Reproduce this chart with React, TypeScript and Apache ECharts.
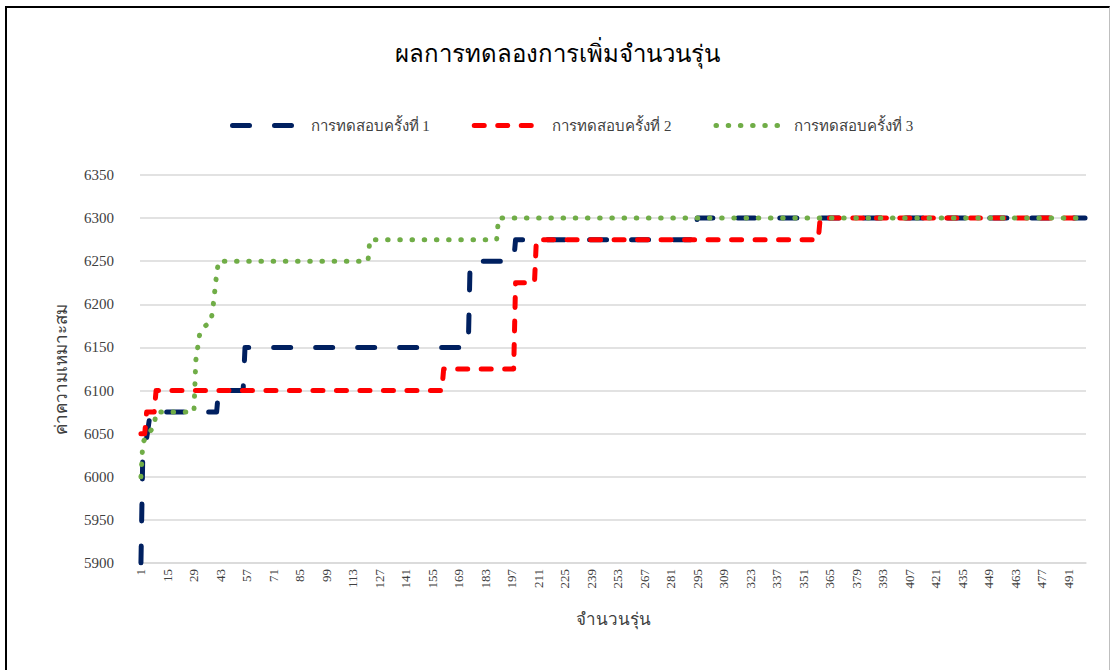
import React, { useEffect, useRef } from "react";
import * as echarts from "echarts";

const titleText = "ผลการทดลองการเพิ่มจำนวนรุ่น";
const xAxisName = "จำนวนรุ่น";
const yAxisName = "ค่าความเหมาะสม";
const seriesNames = ["การทดสอบครั้งที่ 1", "การทดสอบครั้งที่ 2", "การทดสอบครั้งที่ 3"];

// generations 1..500 on the category axis
const generationCount = 500;
const categories = Array.from({ length: generationCount }, (_, i) => String(i + 1));

// Run 1 (navy): generation / fitness at each corner of the curve
const gens1 = [1, 2, 4, 5, 6, 41, 42, 55, 56, 174, 175, 198, 199, 294, 295, 500];
const vals1 = [5900, 6030, 6045, 6060, 6075, 6075, 6100, 6100, 6150, 6150, 6250, 6250, 6275, 6275, 6300, 6300];

// Run 2 (red)
const gens2 = [1, 3, 4, 8, 9, 160, 161, 198, 199, 209, 210, 359, 360, 500];
const vals2 = [6050, 6050, 6075, 6075, 6100, 6100, 6125, 6125, 6225, 6225, 6275, 6275, 6300, 6300];

// Run 3 (green)
const gens3 = [1, 2, 5, 8, 9, 29, 30, 31, 32, 33, 35, 38, 39, 40, 41, 42, 121, 122, 189, 190, 500];
const vals3 = [6000, 6040, 6050, 6059, 6075, 6075, 6135, 6150, 6165, 6170, 6175, 6180, 6195, 6215, 6235, 6250, 6250, 6275, 6275, 6300, 6300];

const yMin = 5900;
const yMax = 6350;
const yStep = 50;

const FONT = "'Liberation Serif', 'Times New Roman', serif";

function pairs(gens: number[], vals: number[]) {
  return gens.map((g, i) => [String(g), vals[i]]);
}

export default function App() {
  const ref = useRef<HTMLDivElement>(null);

  useEffect(() => {
    if (!ref.current) return;
    const chart = echarts.init(ref.current, null, { renderer: "svg" });
    chart.setOption({
      animation: false,
      backgroundColor: "transparent",
      title: {
        text: titleText,
        left: "center",
        top: 37,
        textStyle: { fontFamily: FONT, fontSize: 24, fontWeight: "normal", color: "#000000" },
      },
      legend: {
        top: 113,
        left: 225,
        itemWidth: 64,
        itemHeight: 12,
        itemGap: 42,
        itemStyle: { opacity: 0, borderWidth: 0 },
        lineStyle: { width: 5, cap: "round" },
        textStyle: { fontFamily: FONT, fontSize: 15, color: "#404040", padding: [0, 0, 0, 9] },
        data: seriesNames,
      },
      grid: { left: 140, right: 28, top: 175, bottom: 107, containLabel: false },
      xAxis: {
        type: "category",
        data: categories,
        boundaryGap: true,
        name: xAxisName,
        nameLocation: "middle",
        nameGap: 48,
        nameTextStyle: { fontFamily: FONT, fontSize: 17, color: "#404040" },
        axisLine: { show: true, lineStyle: { color: "#d9d9d9", width: 1.5 } },
        axisTick: { show: false },
        axisLabel: {
          interval: 13,
          rotate: 90,
          margin: 6,
          fontFamily: FONT,
          fontSize: 13,
          color: "#404040",
        },
        splitLine: { show: false },
      },
      yAxis: {
        type: "value",
        min: yMin,
        max: yMax,
        interval: yStep,
        name: yAxisName,
        nameLocation: "middle",
        nameRotate: 90,
        nameGap: 70,
        nameTextStyle: { fontFamily: FONT, fontSize: 17, color: "#404040" },
        axisLine: { show: false },
        axisTick: { show: false },
        axisLabel: {
          margin: 26,
          fontFamily: FONT,
          fontSize: 15,
          color: "#404040",
          formatter: (v: number) => String(v),
        },
        splitLine: { show: true, lineStyle: { color: "#d9d9d9", width: 1.5 } },
      },
      series: [
        {
          name: seriesNames[0],
          type: "line",
          symbol: "none",
          data: pairs(gens1, vals1),
          lineStyle: { color: "#002060", width: 5, type: [17, 25], cap: "round", join: "round" },
          itemStyle: { color: "#002060" },
          z: 1,
        },
        {
          name: seriesNames[1],
          type: "line",
          symbol: "none",
          data: pairs(gens2, vals2),
          lineStyle: { color: "#ff0000", width: 5, type: [10, 13.5], cap: "round", join: "round" },
          itemStyle: { color: "#ff0000" },
          z: 2,
        },
        {
          name: seriesNames[2],
          type: "line",
          symbol: "none",
          data: pairs(gens3, vals3),
          lineStyle: { color: "#70ad47", width: 5, type: [0.5, 11.7], cap: "round", join: "round" },
          itemStyle: { color: "#70ad47" },
          z: 3,
        },
      ],
    });
    return () => chart.dispose();
  }, []);

  return (
    <div style={{ position: "fixed", left: 0, top: 0, width: 1114, height: 670, background: "#ffffff" }}>
      <div
        style={{
          position: "absolute",
          left: 5,
          top: 6,
          width: 1105,
          height: 700,
          borderLeft: "2px solid #000000",
          borderTop: "2px solid #000000",
          borderRight: "1px solid #bfbfbf",
          boxSizing: "border-box",
        }}
      />
      <div ref={ref} style={{ position: "absolute", left: 0, top: 0, width: 1114, height: 670 }} />
    </div>
  );
}
